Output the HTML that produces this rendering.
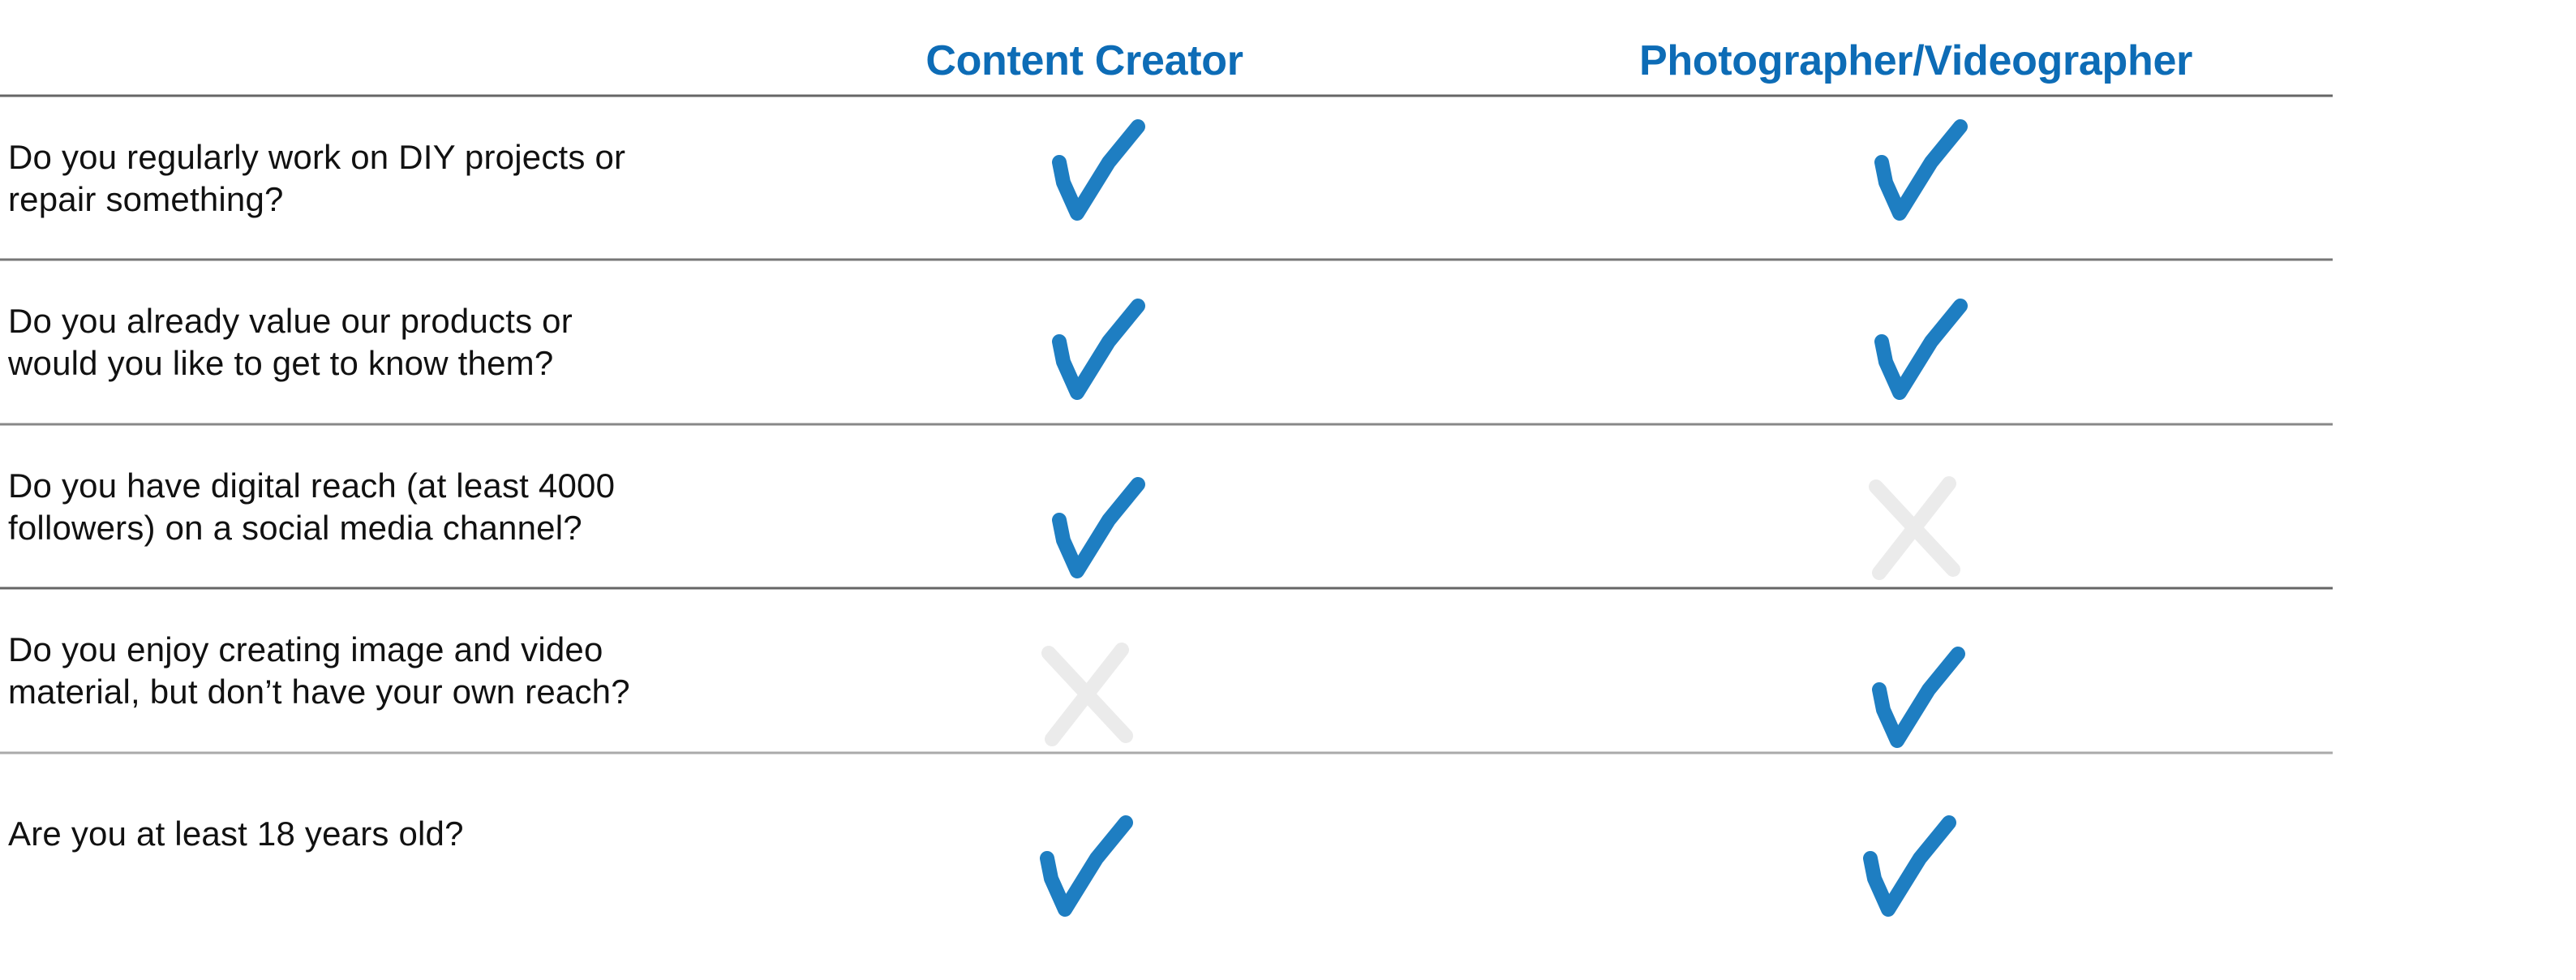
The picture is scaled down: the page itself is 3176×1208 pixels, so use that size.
<!DOCTYPE html>
<html><head><meta charset="utf-8"><style>
html,body{margin:0;padding:0;background:#fff;}
body{width:3176px;height:1203px;overflow:hidden;}
svg text{font-family:"Liberation Sans",Arial,sans-serif;}
</style></head><body>
<svg width="3176" height="1203" viewBox="0 0 3176 1203" xmlns="http://www.w3.org/2000/svg">
<defs>
<g id="chk"><path d="M9 50 L14 75 L31 113 L70 50 L106 6" fill="none" stroke="#1e7ec2" stroke-width="18" stroke-linecap="round" stroke-linejoin="round"/></g>
<g id="crs"><path d="M10 10 L105 112 M100 6 L14 116" fill="none" stroke="#ebebeb" stroke-width="18" stroke-linecap="round"/></g>
</defs>
<g font-weight="bold" font-size="52" fill="#0d6cb6" text-anchor="middle">
<text x="1337" y="92" letter-spacing="-0.3">Content Creator</text>
<text x="2362" y="92" letter-spacing="-0.3">Photographer/Videographer</text>
</g>
<g stroke-width="3">
<line x1="0" y1="118" x2="2876" y2="118" stroke="#666"/>
<line x1="0" y1="320" x2="2876" y2="320" stroke="#777"/>
<line x1="0" y1="523" x2="2876" y2="523" stroke="#888"/>
<line x1="0" y1="725" x2="2876" y2="725" stroke="#666"/>
<line x1="0" y1="928" x2="2876" y2="928" stroke="#aaa"/>
</g>
<g font-size="42" fill="#111" letter-spacing="0.2">
<text x="10" y="208">Do you regularly work on DIY projects or</text>
<text x="10" y="260">repair something?</text>
<text x="10" y="410">Do you already value our products or</text>
<text x="10" y="462">would you like to get to know them?</text>
<text x="10" y="613">Do you have digital reach (at least 4000</text>
<text x="10" y="665">followers) on a social media channel?</text>
<text x="10" y="815">Do you enjoy creating image and video</text>
<text x="10" y="867">material, but don’t have your own reach?</text>
<text x="10" y="1042">Are you at least 18 years old?</text>
</g>
<use href="#chk" x="1297" y="150"/>
<use href="#chk" x="2311" y="150"/>
<use href="#chk" x="1297" y="371"/>
<use href="#chk" x="2311" y="371"/>
<use href="#chk" x="1297" y="591"/>
<use href="#crs" x="2303" y="590"/>
<use href="#crs" x="1283" y="795"/>
<use href="#chk" x="2308" y="800"/>
<use href="#chk" x="1282" y="1008"/>
<use href="#chk" x="2297" y="1008"/>
</svg>
</body></html>
